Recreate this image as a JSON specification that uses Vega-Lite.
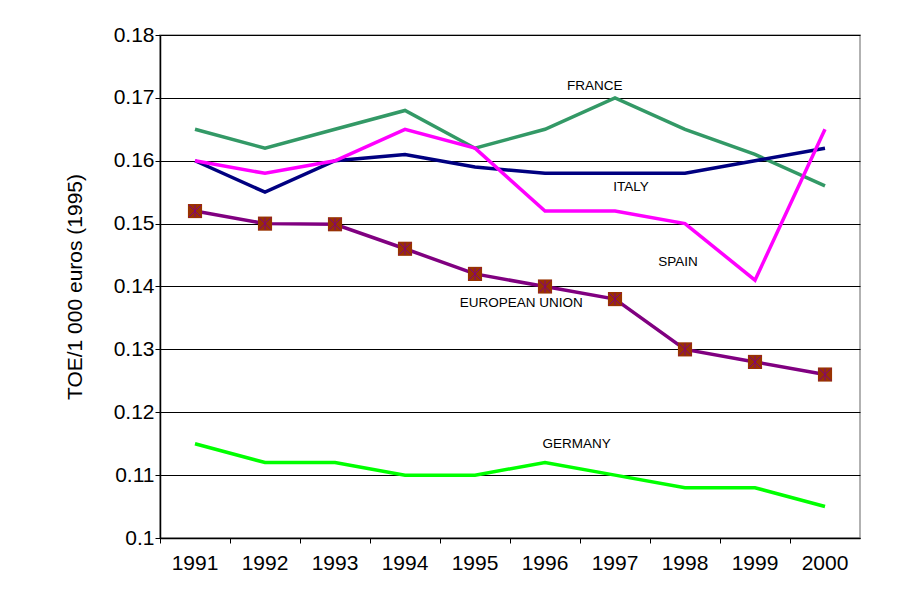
{
  "$schema": "https://vega.github.io/schema/vega-lite/v6.json",
  "autosize": "none",
  "width": 700,
  "height": 503,
  "padding": {"left": 160, "top": 35, "right": 37, "bottom": 71},
  "background": "white",
  "config": {
    "font": "Liberation Sans",
    "view": {"stroke": "#999999", "strokeWidth": 1.5}
  },
  "datasets": {
    "series": [
      {"year": "1991", "country": "FRANCE", "value": 0.165},
      {"year": "1992", "country": "FRANCE", "value": 0.162},
      {"year": "1993", "country": "FRANCE", "value": 0.165},
      {"year": "1994", "country": "FRANCE", "value": 0.168},
      {"year": "1995", "country": "FRANCE", "value": 0.162},
      {"year": "1996", "country": "FRANCE", "value": 0.165},
      {"year": "1997", "country": "FRANCE", "value": 0.170},
      {"year": "1998", "country": "FRANCE", "value": 0.165},
      {"year": "1999", "country": "FRANCE", "value": 0.161},
      {"year": "2000", "country": "FRANCE", "value": 0.156},
      {"year": "1991", "country": "ITALY", "value": 0.160},
      {"year": "1992", "country": "ITALY", "value": 0.155},
      {"year": "1993", "country": "ITALY", "value": 0.160},
      {"year": "1994", "country": "ITALY", "value": 0.161},
      {"year": "1995", "country": "ITALY", "value": 0.159},
      {"year": "1996", "country": "ITALY", "value": 0.158},
      {"year": "1997", "country": "ITALY", "value": 0.158},
      {"year": "1998", "country": "ITALY", "value": 0.158},
      {"year": "1999", "country": "ITALY", "value": 0.160},
      {"year": "2000", "country": "ITALY", "value": 0.162},
      {"year": "1991", "country": "SPAIN", "value": 0.160},
      {"year": "1992", "country": "SPAIN", "value": 0.158},
      {"year": "1993", "country": "SPAIN", "value": 0.160},
      {"year": "1994", "country": "SPAIN", "value": 0.165},
      {"year": "1995", "country": "SPAIN", "value": 0.162},
      {"year": "1996", "country": "SPAIN", "value": 0.152},
      {"year": "1997", "country": "SPAIN", "value": 0.152},
      {"year": "1998", "country": "SPAIN", "value": 0.150},
      {"year": "1999", "country": "SPAIN", "value": 0.141},
      {"year": "2000", "country": "SPAIN", "value": 0.165},
      {"year": "1991", "country": "GERMANY", "value": 0.115},
      {"year": "1992", "country": "GERMANY", "value": 0.112},
      {"year": "1993", "country": "GERMANY", "value": 0.112},
      {"year": "1994", "country": "GERMANY", "value": 0.110},
      {"year": "1995", "country": "GERMANY", "value": 0.110},
      {"year": "1996", "country": "GERMANY", "value": 0.112},
      {"year": "1997", "country": "GERMANY", "value": 0.110},
      {"year": "1998", "country": "GERMANY", "value": 0.108},
      {"year": "1999", "country": "GERMANY", "value": 0.108},
      {"year": "2000", "country": "GERMANY", "value": 0.105},
      {"year": "1991", "country": "EUROPEAN UNION", "value": 0.152},
      {"year": "1992", "country": "EUROPEAN UNION", "value": 0.150},
      {"year": "1993", "country": "EUROPEAN UNION", "value": 0.1499},
      {"year": "1994", "country": "EUROPEAN UNION", "value": 0.146},
      {"year": "1995", "country": "EUROPEAN UNION", "value": 0.142},
      {"year": "1996", "country": "EUROPEAN UNION", "value": 0.140},
      {"year": "1997", "country": "EUROPEAN UNION", "value": 0.138},
      {"year": "1998", "country": "EUROPEAN UNION", "value": 0.130},
      {"year": "1999", "country": "EUROPEAN UNION", "value": 0.128},
      {"year": "2000", "country": "EUROPEAN UNION", "value": 0.126}
    ],
    "labels": [
      {"pos": 1996.71, "value": 0.1719, "label": "FRANCE"},
      {"pos": 1997.23, "value": 0.1558, "label": "ITALY"},
      {"pos": 1997.9, "value": 0.1439, "label": "SPAIN"},
      {"pos": 1995.66, "value": 0.1374, "label": "EUROPEAN UNION"},
      {"pos": 1996.45, "value": 0.1150, "label": "GERMANY"}
    ]
  },
  "layer": [
    {
      "data": {"name": "series"},
      "layer": [
        {
          "mark": {"type": "line", "strokeWidth": 3.5},
          "encoding": {
            "x": {
              "field": "year", "type": "ordinal",
              "scale": {"type": "band", "paddingInner": 0, "paddingOuter": 0},
              "axis": {
                "title": null, "labelAngle": 0, "labelFontSize": 21, "labelColor": "black",
                "labelPadding": 9, "bandPosition": 0, "ticks": true, "tickSize": 5,
                "tickColor": "black", "domainColor": "black", "domainWidth": 1.5, "grid": false
              }
            },
            "y": {
              "field": "value", "type": "quantitative",
              "scale": {"domain": [0.1, 0.18], "zero": false, "nice": false},
              "axis": {
                "title": "TOE/1 000 euros (1995)", "titleFontSize": 21, "titleFontWeight": "normal",
                "titleColor": "black", "titlePadding": 28,
                "values": [0.1, 0.11, 0.12, 0.13, 0.14, 0.15, 0.16, 0.17, 0.18],
                "format": "~g", "labelFontSize": 21, "labelColor": "black", "labelPadding": 1,
                "tickSize": 5, "tickColor": "black", "domainColor": "black", "domainWidth": 1.5,
                "grid": true, "gridColor": "black", "gridWidth": 1, "gridOpacity": 1
              }
            },
            "color": {
              "field": "country", "type": "nominal", "legend": null,
              "scale": {
                "domain": ["FRANCE", "ITALY", "SPAIN", "GERMANY", "EUROPEAN UNION"],
                "range": ["#339966", "#000080", "#FF00FF", "#00FF00", "#800080"]
              }
            }
          }
        },
        {
          "transform": [{"filter": "datum.country === 'EUROPEAN UNION'"}],
          "mark": {"type": "point", "shape": "square", "filled": true, "size": 200, "color": "#993300", "opacity": 1},
          "encoding": {
            "x": {"field": "year", "type": "ordinal"},
            "y": {"field": "value", "type": "quantitative"}
          }
        },
        {
          "transform": [{"filter": "datum.country === 'EUROPEAN UNION'"}],
          "mark": {"type": "point", "shape": "M-1,-1L1,1M1,-1L-1,1M0,-1L0,1", "filled": false, "size": 150, "stroke": "#800080", "strokeWidth": 1, "opacity": 1},
          "encoding": {
            "x": {"field": "year", "type": "ordinal"},
            "y": {"field": "value", "type": "quantitative"}
          }
        }
      ]
    },
    {
      "data": {"name": "labels"},
      "mark": {"type": "text", "fontSize": 13.5, "color": "black", "align": "center", "baseline": "middle"},
      "encoding": {
        "x": {"field": "pos", "type": "quantitative", "scale": {"domain": [1990.5, 2000.5], "nice": false, "zero": false}, "axis": null},
        "y": {"field": "value", "type": "quantitative"},
        "text": {"field": "label"}
      }
    }
  ],
  "resolve": {"scale": {"x": "independent"}}
}
